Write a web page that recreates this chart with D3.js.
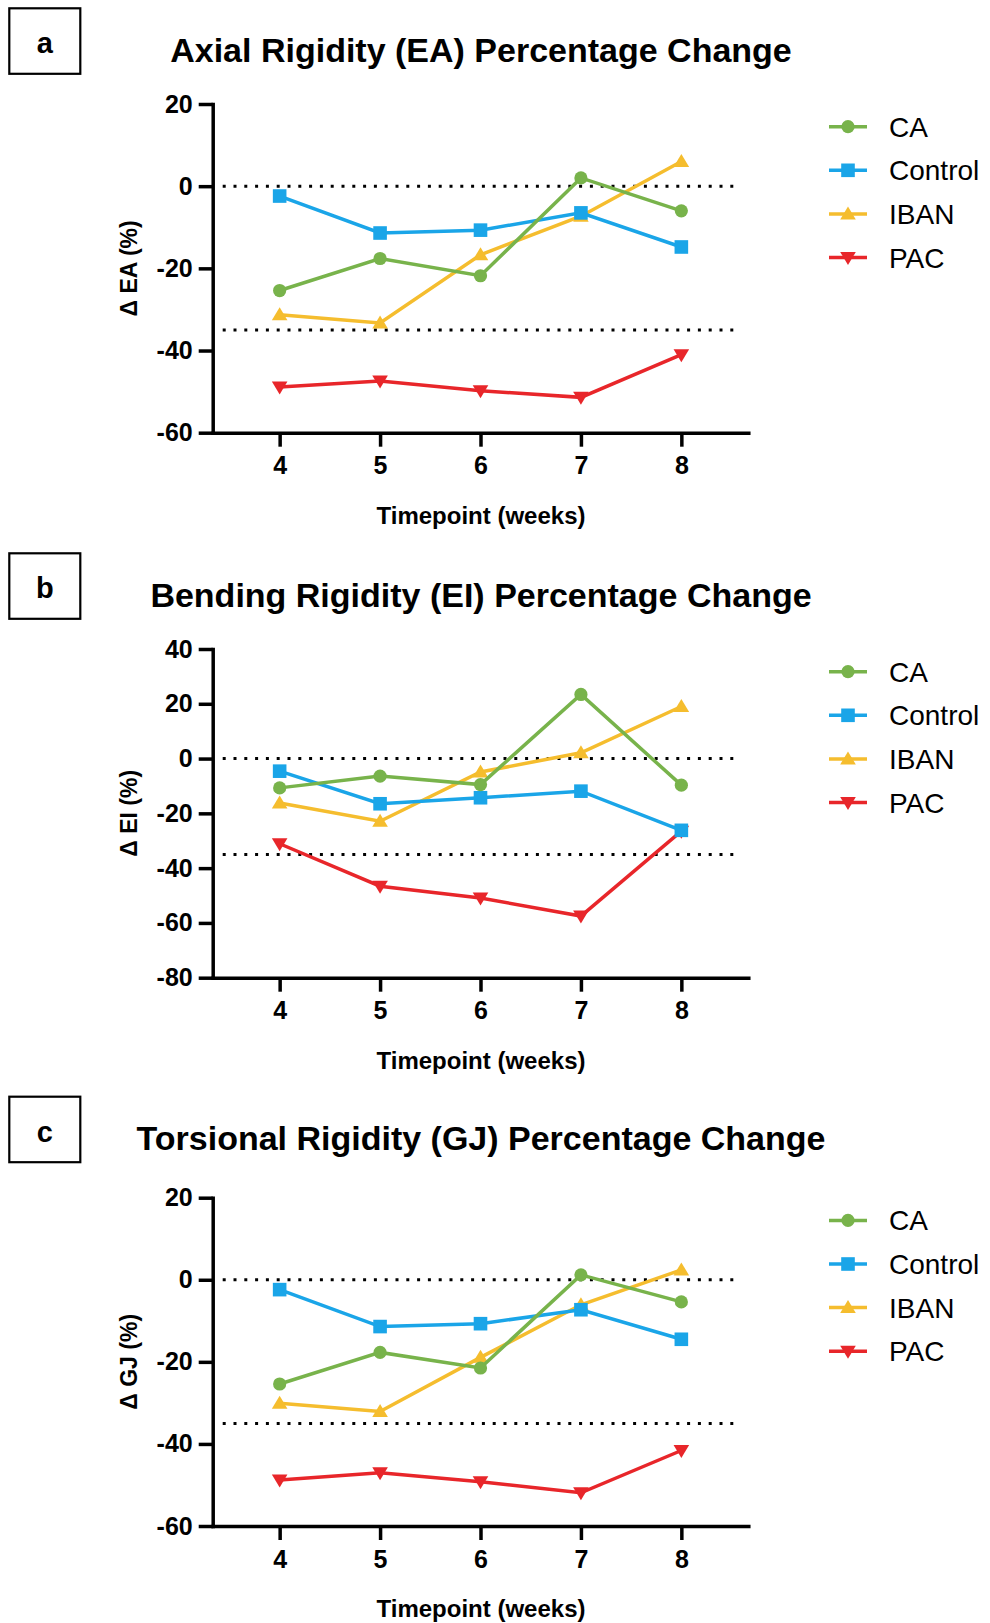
<!DOCTYPE html>
<html>
<head>
<meta charset="utf-8">
<script src="https://cdn.jsdelivr.net/npm/d3@7"></script>
<style>
  body { margin: 0; background: #fff; }
  svg { display: block; font-family: "Liberation Sans", Arial, sans-serif; }
</style>
</head>
<body>
<svg id="chart" width="990" height="1623"></svg>
<script>
// data
const weeks = [4, 5, 6, 7, 8];
const groups = ["CA", "Control", "IBAN", "PAC"];

const eaCA      = [-25.4, -17.6, -21.8, 2.0, -6.0];
const eaControl = [-2.4, -11.4, -10.7, -6.5, -14.8];
const eaIBAN    = [-31.3, -33.3, -16.7, -7.3, 6.0];
const eaPAC     = [-48.9, -47.4, -49.8, -51.4, -41.0];

const eiCA      = [-10.7, -6.4, -9.5, 23.4, -9.7];
const eiControl = [-4.6, -16.5, -14.3, -11.9, -26.2];
const eiIBAN    = [-16.2, -22.9, -4.9, 2.1, 19.0];
const eiPAC     = [-31.1, -46.6, -50.9, -57.5, -26.5];

const gjCA      = [-25.4, -17.7, -21.5, 1.2, -5.4];
const gjControl = [-2.4, -11.4, -10.7, -7.3, -14.5];
const gjIBAN    = [-30.1, -32.1, -18.9, -6.1, 2.4];
const gjPAC     = [-48.8, -47.0, -49.2, -51.9, -41.6];

const eaTicks = [-60, -40, -20, 0, 20];
const eiTicks = [-80, -60, -40, -20, 0, 20, 40];
const gjTicks = [-60, -40, -20, 0, 20];
const refLines = [0, -35];

const panels = [
    { letter: "a", title: "Axial Rigidity (EA) Percentage Change", yLabel: "\u0394 EA (%)",
      ticks: eaTicks, series: [eaCA, eaControl, eaIBAN, eaPAC], boxTop: 8.3, top: 104, bottom: 432.7 },
    { letter: "b", title: "Bending Rigidity (EI) Percentage Change", yLabel: "\u0394 EI (%)",
      ticks: eiTicks, series: [eiCA, eiControl, eiIBAN, eiPAC], boxTop: 553.3, top: 649, bottom: 977.7 },
    { letter: "c", title: "Torsional Rigidity (GJ) Percentage Change", yLabel: "\u0394 GJ (%)",
      ticks: gjTicks, series: [gjCA, gjControl, gjIBAN, gjPAC], boxTop: 1096.7, top: 1197.7, bottom: 1526 }
];

const colors = { CA: "#78b34b", Control: "#1aa5e8", IBAN: "#f5bd2e", PAC: "#e8262a" };
const shapes = { CA: "circle", Control: "square", IBAN: "up", PAC: "down" };

const left = 212.7, right = 748.3;
const x = d3.scaleLinear().domain([10 / 3, 26 / 3]).range([left, right]);

const svg = d3.select("#chart");

function drawMarker(g, shape, color){
    if(shape === "circle"){
        g.append("circle").attr("r", 6.6).attr("fill", color);
    } else if(shape === "square"){
        g.append("rect").attr("x", -6.8).attr("y", -6.8)
            .attr("width", 13.6).attr("height", 13.6).attr("fill", color);
    } else if(shape === "up"){
        g.append("path").attr("d", "M0,-7.5L7.8,5.5L-7.8,5.5Z").attr("fill", color);
    } else {
        g.append("path").attr("d", "M0,7.5L7.8,-5.5L-7.8,-5.5Z").attr("fill", color);
    }
}

function drawPanel(p){
    const g = svg.append("g");
    const y = d3.scaleLinear()
        .domain([d3.min(p.ticks), d3.max(p.ticks)])
        .range([p.bottom, p.top]);

    // letter box
    g.append("rect")
        .attr("x", 9.3).attr("y", p.boxTop)
        .attr("width", 71).attr("height", 65.5)
        .attr("fill", "none").attr("stroke", "#000").attr("stroke-width", 2.2);
    g.append("text")
        .attr("x", 44.8).attr("y", p.boxTop + 45)
        .attr("text-anchor", "middle")
        .attr("font-size", 29).attr("font-weight", "bold")
        .text(p.letter);

    // title
    g.append("text")
        .attr("x", 481).attr("y", p.boxTop + 53.4)
        .attr("text-anchor", "middle")
        .attr("font-size", 34).attr("font-weight", "bold")
        .text(p.title);

    // reference lines
    g.selectAll("line.ref")
        .data(refLines)
        .join("line")
            .attr("class", "ref")
            .attr("x1", 222.7).attr("x2", 740)
            .attr("y1", d => y(d)).attr("y2", d => y(d))
            .attr("stroke", "#000").attr("stroke-width", 3)
            .attr("stroke-dasharray", "3 7.8");

    // axes (plain hyphen minus like the original)
    const fmt = d => String(d);
    const yAxis = g.append("g")
        .attr("transform", "translate(" + left + ",0)")
        .call(d3.axisLeft(y).tickValues(p.ticks).tickFormat(fmt)
            .tickSizeInner(14).tickSizeOuter(0).tickPadding(6));
    const xAxis = g.append("g")
        .attr("transform", "translate(0," + p.bottom + ")")
        .call(d3.axisBottom(x).tickValues(weeks).tickFormat(fmt)
            .tickSizeInner(14).tickSizeOuter(0).tickPadding(10));
    [yAxis, xAxis].forEach(ax => {
        ax.select(".domain").attr("stroke-width", 3.5).attr("stroke-linecap", "square");
        ax.selectAll(".tick line").attr("stroke-width", 3.5);
        ax.selectAll(".tick text")
            .attr("font-size", 25).attr("font-weight", "bold")
            .attr("font-family", "Liberation Sans, Arial, sans-serif")
            .attr("fill", "#000");
    });

    // axis titles
    g.append("text")
        .attr("transform", "translate(137," + ((p.top + p.bottom) / 2) + ") rotate(-90)")
        .attr("text-anchor", "middle")
        .attr("font-size", 23).attr("font-weight", "bold")
        .text(p.yLabel);
    g.append("text")
        .attr("x", 481).attr("y", p.bottom + 91)
        .attr("text-anchor", "middle")
        .attr("font-size", 24).attr("font-weight", "bold")
        .text("Timepoint (weeks)");

    // series, PAC first so Control/CA sit on top
    const line = d3.line().x((d, i) => x(weeks[i])).y(d => y(d));
    const order = [3, 2, 1, 0];
    order.forEach(k => {
        const name = groups[k];
        const vals = p.series[k];
        const sg = g.append("g");
        sg.append("path")
            .datum(vals)
            .attr("d", line)
            .attr("fill", "none")
            .attr("stroke", colors[name])
            .attr("stroke-width", 3.5);
        sg.selectAll("g.pt")
            .data(vals)
            .join("g")
                .attr("class", "pt")
                .attr("transform", (d, i) => "translate(" + x(weeks[i]) + "," + y(d) + ")")
                .each(function(){ drawMarker(d3.select(this), shapes[name], colors[name]); });
    });

    // legend
    groups.forEach((name, i) => {
        const ly = p.top + 22.7 + i * 43.6;
        const lg = g.append("g").attr("transform", "translate(848," + ly + ")");
        lg.append("line")
            .attr("x1", -19).attr("x2", 19)
            .attr("stroke", colors[name]).attr("stroke-width", 3.5);
        drawMarker(lg, shapes[name], colors[name]);
        lg.append("text")
            .attr("x", 41).attr("y", 10)
            .attr("font-size", 28)
            .text(name);
    });
}

panels.forEach(drawPanel);
</script>
</body>
</html>
